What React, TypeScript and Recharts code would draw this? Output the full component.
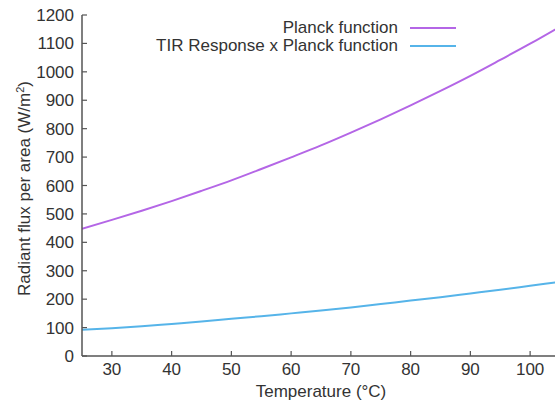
import { LineChart, Line, XAxis, YAxis, Legend, Label } from "recharts";

const temperatures = [25, 30, 35, 40, 45, 50, 55, 60, 65, 70, 75, 80, 85, 90, 95, 100, 105];
// Planck function (W/m^2)
const planck = [448, 479, 511, 545, 581, 618, 658, 699, 741, 786, 833, 882, 933, 986, 1042, 1099, 1159];
// TIR Response x Planck function (W/m^2)
const tirPlanck = [92, 98, 105, 113, 121, 131, 140, 150, 160, 171, 183, 195, 207, 220, 233, 247, 261];

const xTicks = [30, 40, 50, 60, 70, 80, 90, 100];
const yTicks = [0, 100, 200, 300, 400, 500, 600, 700, 800, 900, 1000, 1100, 1200];

const FONT = "'Liberation Sans', Arial, Helvetica, sans-serif";
const AXIS = "#555";
const TEXT = "#333";
const PURPLE = "#b466e6";
const BLUE = "#56b4e9";
const TICK_LEN = 5;

const data = temperatures.map((t, i) => ({ t, planck: planck[i], tir: tirPlanck[i] }));

const BottomTick = ({ x, y, payload }: any) => (
  <g>
    <line x1={x} x2={x} y1={y - 7} y2={y - 7 - TICK_LEN} stroke={AXIS} strokeWidth={1.2} />
    <text x={x} y={y} dy="0.71em" textAnchor="middle" fill={TEXT} fontSize={17} fontFamily={FONT}>
      {payload.value}
    </text>
  </g>
);

const LeftTick = ({ x, y, payload }: any) => (
  <g>
    <line x1={x + 8} x2={x + 8 + TICK_LEN} y1={y} y2={y} stroke={AXIS} strokeWidth={1.2} />
    <text x={x} y={y} dy="0.355em" textAnchor="end" fill={TEXT} fontSize={17} fontFamily={FONT}>
      {payload.value}
    </text>
  </g>
);

const TopTick = ({ x, y }: any) => (
  <line x1={x} x2={x} y1={y} y2={y + TICK_LEN} stroke={AXIS} strokeWidth={1.2} />
);

const RightTick = ({ x, y }: any) => (
  <line x1={x} x2={x - TICK_LEN} y1={y} y2={y} stroke={AXIS} strokeWidth={1.2} />
);

const YLabel = ({ viewBox }: any) => {
  const cx = viewBox.x + 30;
  const cy = viewBox.y + viewBox.height / 2 + 3;
  return (
    <text
      x={cx}
      y={cy}
      transform={`rotate(-90, ${cx}, ${cy})`}
      textAnchor="middle"
      fill={TEXT}
      fontSize={17}
      fontFamily={FONT}
    >
      Radiant flux per area (W/m
      <tspan baselineShift="super" fontSize={11}>2</tspan>)
    </text>
  );
};

const LegendBox = ({ payload }: any) => (
  <div style={{ fontFamily: FONT, fontSize: 17, color: TEXT }}>
    {(payload || []).map((p: any) => (
      <div
        key={p.value}
        style={{ display: "flex", justifyContent: "flex-end", alignItems: "center", height: 18, lineHeight: "18px" }}
      >
        <span>{p.value}</span>
        <span style={{ display: "inline-block", width: 46, height: 2, background: p.color, marginLeft: 12 }} />
      </div>
    ))}
  </div>
);

export default function App() {
  return (
    <div style={{ position: "fixed", left: 0, top: 0, width: 555, height: 403, overflow: "hidden", background: "#fff" }}>
      <LineChart width={565} height={403} data={data} margin={{ top: 15, right: 5, bottom: 0, left: 0 }}>
        <XAxis
          dataKey="t"
          type="number"
          domain={[25, 105]}
          ticks={xTicks}
          allowDataOverflow
          height={47}
          stroke={AXIS}
          strokeWidth={1.5}
          tickLine={false}
          tickSize={0}
          tickMargin={7}
          tick={<BottomTick />}
        >
          <Label
            value="Temperature (°C)"
            position="insideBottom"
            offset={6}
            fill={TEXT}
            fontSize={17}
            fontFamily={FONT}
          />
        </XAxis>
        <XAxis
          xAxisId="top"
          orientation="top"
          dataKey="t"
          type="number"
          domain={[25, 105]}
          ticks={xTicks}
          allowDataOverflow
          height={0}
          stroke={AXIS}
          strokeWidth={1.5}
          tickLine={false}
          tickSize={0}
          tickMargin={0}
          tick={<TopTick />}
        />
        <YAxis
          domain={[0, 1200]}
          ticks={yTicks}
          width={82}
          stroke={AXIS}
          strokeWidth={1.5}
          tickLine={false}
          tickSize={0}
          tickMargin={8}
          tick={<LeftTick />}
        >
          <Label content={<YLabel />} />
        </YAxis>
        <YAxis
          yAxisId="right"
          orientation="right"
          domain={[0, 1200]}
          ticks={yTicks}
          width={0}
          stroke={AXIS}
          strokeWidth={1.5}
          tickLine={false}
          tickSize={0}
          tickMargin={0}
          tick={<RightTick />}
        />
        <Legend
          layout="vertical"
          align="center"
          verticalAlign="middle"
          content={<LegendBox />}
          wrapperStyle={{ position: "absolute", top: 19, left: 100, width: 356, height: 36 }}
        />
        <Line
          type="monotone"
          dataKey="planck"
          name="Planck function"
          stroke={PURPLE}
          strokeWidth={2}
          dot={false}
          isAnimationActive={false}
        />
        <Line
          type="monotone"
          dataKey="tir"
          name="TIR Response x Planck function"
          stroke={BLUE}
          strokeWidth={2}
          dot={false}
          isAnimationActive={false}
        />
      </LineChart>
    </div>
  );
}
